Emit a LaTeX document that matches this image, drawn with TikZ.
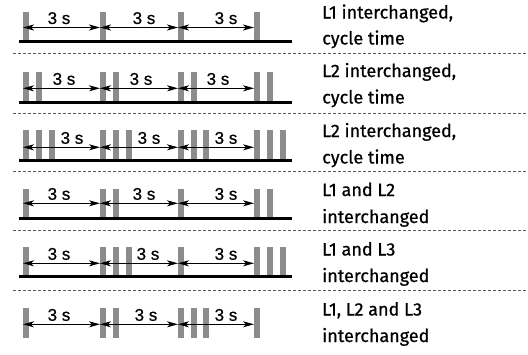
\documentclass[tikz,border=0pt]{standalone}
\usepackage{fontspec}
\setmainfont{Fira Sans}
\newfontfamily\txtfont[FakeBold=0.7]{Fira Sans}
\newfontfamily\labfont[FakeBold=0.5]{Liberation Sans}
\usetikzlibrary{arrows.meta}
\definecolor{bargray}{RGB}{140,140,140}
\definecolor{sepgray}{RGB}{90,90,90}
\begin{document}
\begin{tikzpicture}[x=1pt,y=-1pt,
 bar/.style={fill=bargray, draw=none, minimum width=6pt, inner sep=0pt, outer sep=0pt, anchor=north west},
 dimarrow/.style={{Stealth[length=11pt,width=6pt,inset=3pt]}-{Stealth[length=11pt,width=6pt,inset=3pt]}, line width=1pt},
 lab/.style={font=\labfont\fontsize{17}{17}\selectfont, anchor=base, inner sep=0pt},
 txt/.style={font=\txtfont\fontsize{18}{18}\selectfont, anchor=base west, inner sep=0pt},
 groundline/.style={line width=2.7pt},
 sep/.style={dash pattern=on 3pt off 2pt, line width=0.7pt, draw=sepgray}]
\useasboundingbox (0,0) rectangle (528,354);

% #1 row id, #2 top, #3 bottom, #4 arrow y, #5 bar x list, #6 label x list
\newcommand{\timerow}[6]{%
  \foreach \bx [count=\bi] in {#5} {
    \node[bar, minimum height=#3-#2] (#1b\bi) at (\bx,#2) {};
  }
  \coordinate (#1g1) at (23,#4);
  \coordinate (#1g2) at (100,#4);
  \coordinate (#1g3) at (178,#4);
  \coordinate (#1g4) at (254,#4);
  \draw[dimarrow] (#1g1) -- (#1g2);
  \draw[dimarrow] (#1g2) -- (#1g3);
  \draw[dimarrow] (#1g3) -- (#1g4);
  \foreach \lx [count=\li] in {#6} {
    \node[lab] (#1l\li) at (\lx,#4-3.5) {3 s};
  }
}

% Row 1
\timerow{ra}{12.3}{40.5}{27.5}{23,100,178,254}{59,144,226}
\coordinate (raL) at (19.3,41.4); \coordinate (raR) at (291.7,41.4);
\draw[groundline] (raL) -- (raR);
% Row 2
\timerow{rb}{71.7}{101.7}{88.3}{23,36,100,113,178,191,254,267}{64,141,218}
\coordinate (rbL) at (19.3,102.6); \coordinate (rbR) at (291.7,102.6);
\draw[groundline] (rbL) -- (rbR);
% Row 3
\timerow{rc}{130}{159.5}{147.3}{23,36,49,100,113,126,178,191,203,254,267,280}{72,149,226}
\coordinate (rcL) at (19.3,160.3); \coordinate (rcR) at (291.7,160.3);
\draw[groundline] (rcL) -- (rcR);
% Row 4
\timerow{rd}{189}{217.2}{203.3}{23,100,113,178,254,267}{59,144,226}
\coordinate (rdL) at (19.3,218.3); \coordinate (rdR) at (291.7,218.3);
\draw[groundline] (rdL) -- (rdR);
% Row 5
\timerow{re}{246.7}{275.7}{263.3}{23,100,113,126,178,254,267,280}{59,148,226}
\coordinate (reL) at (19.3,276.7); \coordinate (reR) at (291.7,276.7);
\draw[groundline] (reL) -- (reR);
% Row 6
\timerow{rf}{308.3}{337.7}{324.3}{23,100,113,178,191,203,254}{59,146,226}

% separators
\foreach \sy [count=\si] in {53,113,171.5,230,290} {
  \coordinate (s\si L) at (13,\sy);
  \coordinate (s\si R) at (528,\sy);
  \draw[sep] (s\si L) -- (s\si R);
}

% texts
\node[txt] (t1a) at (322,18.5) {L1 interchanged,};
\node[txt] (t1b) at (322,44.5) {cycle time};
\node[txt] (t2a) at (322,77) {L2 interchanged,};
\node[txt] (t2b) at (322,103.5) {cycle time};
\node[txt] (t3a) at (322,137) {L2 interchanged,};
\node[txt] (t3b) at (322,163.5) {cycle time};
\node[txt] (t4a) at (322,196) {L1 and L2};
\node[txt] (t4b) at (322,223) {interchanged};
\node[txt] (t5a) at (322,255.5) {L1 and L3};
\node[txt] (t5b) at (322,282) {interchanged};
\node[txt] (t6a) at (322,315.5) {L1, L2 and L3};
\node[txt] (t6b) at (322,342) {interchanged};
\end{tikzpicture}
\end{document}
